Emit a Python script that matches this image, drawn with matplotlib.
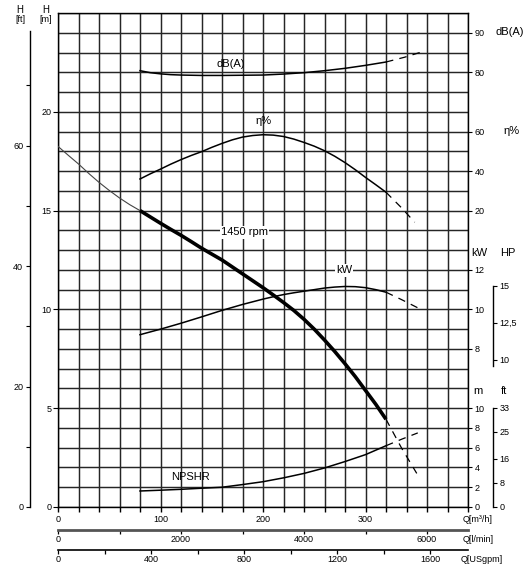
import matplotlib
matplotlib.use("Agg")
from matplotlib import pyplot as plt
import numpy as np

plt.rcParams['font.family'] = ['Liberation Sans', 'DejaVu Sans']

# pump curve, 1450 rpm (Q in m3/h, H in m)
q_thin = [0, 10, 20, 30, 40, 50, 60, 70, 80]
h_thin = [18.25, 17.8, 17.36, 16.88, 16.43, 16.02, 15.64, 15.3, 15.0]
q_h = [80, 90, 100, 110, 120, 130, 140, 150, 160, 170, 180, 190, 200,
       210, 220, 230, 240, 250, 260, 270, 280, 290, 300, 310, 320]
h_h = [15.0, 14.68, 14.36, 14.05, 13.75, 13.43, 13.1, 12.8, 12.5, 12.15, 11.8, 11.45, 11.1,
       10.73, 10.35, 9.95, 9.5, 9.0, 8.45, 7.87, 7.25, 6.6, 5.9, 5.2, 4.44]
q_h_ext = [320, 335, 350]
h_h_ext = [4.44, 3.0, 1.7]

q_db = [80, 90, 100, 110, 120, 140, 160, 180, 200, 220, 240, 260, 280, 300, 320]
db = [80.4, 79.9, 79.6, 79.4, 79.3, 79.2, 79.2, 79.25, 79.3, 79.55, 79.9, 80.4, 81.0, 81.75, 82.6]
q_db_ext = [320, 338, 353]
db_ext = [82.6, 83.8, 85.0]

q_eta = [80, 90, 100, 110, 120, 130, 140, 150, 160, 170, 180, 190, 200,
         210, 220, 230, 240, 250, 260, 270, 280, 290, 300, 310, 320]
eta = [36, 38.6, 41, 43.5, 45.8, 47.9, 49.8, 52, 54, 55.8, 57.2, 58.0, 58.4,
       58.2, 57.5, 56.2, 54.5, 52.6, 50.3, 47.5, 44.3, 40.7, 36.8, 33.1, 29.3]
q_eta_ext = [320, 335, 348]
eta_ext = [29.3, 21.5, 14.1]

q_kw = [80, 100, 120, 140, 160, 180, 200, 210, 220, 230, 240, 250, 260, 270, 280, 290, 300, 310, 320]
kw = [8.72, 9.0, 9.3, 9.62, 9.95, 10.25, 10.52, 10.64, 10.75, 10.84, 10.92, 11.0, 11.08,
      11.13, 11.16, 11.15, 11.1, 11.0, 10.87]
q_kw_ext = [320, 335, 351]
kw_ext = [10.87, 10.5, 10.08]

q_np = [80, 100, 120, 140, 160, 180, 200, 220, 240, 260, 280, 300, 320]
npsh = [1.62, 1.7, 1.79, 1.9, 2.0, 2.27, 2.56, 2.95, 3.4, 3.95, 4.6, 5.3, 6.2]
q_np_ext = [320, 335, 351]
npsh_ext = [6.2, 6.85, 7.5]

# scale conversions onto the head grid (m)
def db_to_h(v): return 22 + (np.asarray(v) - 80) / 5.0
def eta_to_h(v): return 15 + (np.asarray(v) - 20) / 10.0
def np_to_h(v): return np.asarray(v) / 2.0

W, H = 526, 567
fig = plt.figure(figsize=(W / 100, H / 100), dpi=100)

def rect(x0, y0, x1, y1):
    return [x0 / W, 1 - y1 / H, (x1 - x0) / W, (y1 - y0) / H]

def pt(p):
    return p * 72 / 100

ax = fig.add_axes(rect(58, 13, 468, 507))
ax.set_xlim(0, 400)
ax.set_ylim(0, 25)
for q in np.arange(0, 401, 20):
    ax.axvline(q, color='#262626', lw=1.05, zorder=1)
for h in range(26):
    ax.axhline(h, color='#262626', lw=1.05, zorder=1)
for s in ax.spines.values():
    s.set_linewidth(1.0)

ax.set_yticks([0, 5, 10, 15, 20])
ax.tick_params(axis='y', length=pt(5), width=0.8, labelsize=6.5, pad=1)
xt = np.arange(0, 401, 20)
ax.set_xticks(xt)
ax.set_xticklabels([str(q) if q % 100 == 0 and q < 400 else '' for q in xt])
ax.tick_params(axis='x', length=pt(5), width=1.0, labelsize=6.5, pad=2)

dash = dict(dashes=(6, 5))
ax.plot(q_thin, h_thin, color='#444', lw=0.8, zorder=3)
ax.plot(q_h, h_h, color='black', lw=2.6, zorder=4, solid_capstyle='butt')
ax.plot(q_h_ext, h_h_ext, color='black', lw=0.9, zorder=3, **dash)
ax.plot(q_db, db_to_h(db), color='black', lw=1.1, zorder=3)
ax.plot(q_db_ext, db_to_h(db_ext), color='black', lw=0.9, zorder=3, **dash)
ax.plot(q_eta, eta_to_h(eta), color='black', lw=1.1, zorder=3)
ax.plot(q_eta_ext, eta_to_h(eta_ext), color='black', lw=0.9, zorder=3, **dash)
ax.plot(q_kw, kw, color='black', lw=1.1, zorder=3)
ax.plot(q_kw_ext, kw_ext, color='black', lw=0.9, zorder=3, **dash)
ax.plot(q_np, np_to_h(npsh), color='black', lw=1.1, zorder=3)
ax.plot(q_np_ext, np_to_h(npsh_ext), color='black', lw=0.9, zorder=3, **dash)

box = dict(facecolor='white', edgecolor='none', pad=1.0)
ax.text(182, 13.9, '1450 rpm', fontsize=8, ha='center', va='center', bbox=box, zorder=5)
ax.text(279, 11.97, 'kW', fontsize=8, ha='center', va='center', bbox=box, zorder=5)
ax.text(129, 1.5, 'NPSHR', fontsize=8, ha='center', va='center', zorder=5)
ax.text(169, 22.4, 'dB(A)', fontsize=8, ha='center', va='center', zorder=5)
ax.text(200, 19.55, 'η%', fontsize=8, ha='center', va='center', zorder=5)

def scale_axes(ylim, side, ticks, labels=None, offset=None, bounds=None, minor=None):
    a = fig.add_axes(ax.get_position())
    a.patch.set_visible(False)
    a.set_ylim(ylim)
    a.set_xticks([])
    for s in a.spines.values():
        s.set_visible(False)
    if side == 'right':
        a.yaxis.tick_right()
    a.set_yticks(ticks)
    if labels is not None:
        a.set_yticklabels(labels)
    if minor is not None:
        a.set_yticks(minor, minor=True)
    a.tick_params(axis='y', which='both', length=pt(4), width=0.8, labelsize=6.5, pad=2)
    if offset is not None:
        sp = a.spines[side]
        sp.set_visible(True)
        sp.set_linewidth(1.0)
        sp.set_position(('axes', offset))
        sp.set_bounds(*bounds)
    return a

# left ft scale
scale_axes((0, 25 / 0.3048), 'left', [0, 20, 40, 60], offset=-28 / 410,
           bounds=(0, 79), minor=[10, 30, 50, 70])
# right scales
scale_axes((80 - 22 * 5, 80 + 3 * 5), 'right', [80, 90])
scale_axes((20 - 15 * 10, 20 + 10 * 10), 'right', [20, 40, 60])
scale_axes((0, 25), 'right', [8, 10, 12])
scale_axes((0, 25 / 0.7457), 'right', [10, 12.5, 15], ['10', '12,5', '15'],
           offset=1 + 25 / 410, bounds=(9.6, 15))
scale_axes((0, 50), 'right', [0, 2, 4, 6, 8, 10])
scale_axes((0, 50 / 0.3048), 'right', [0, 8, 16, 25, 33],
           offset=1 + 25 / 410, bounds=(0, 33))

# flow scales below
def flow_axis(y, xmax, major, minor, lw, color):
    a = fig.add_axes(rect(58, y - 10, 468, y))
    a.patch.set_visible(False)
    a.set_xlim(0, xmax)
    a.set_yticks([])
    for k in ('left', 'right', 'top'):
        a.spines[k].set_visible(False)
    a.spines['bottom'].set_linewidth(lw)
    a.spines['bottom'].set_color(color)
    a.set_xticks(major)
    a.set_xticks(minor, minor=True)
    a.tick_params(axis='x', which='both', length=pt(4), width=0.9, labelsize=6.5, pad=1)
    return a

flow_axis(530, 400 * 1000 / 60, [0, 2000, 4000, 6000], [1000, 3000, 5000], 2.0, '#555')
flow_axis(550, 400 * 4.40287, [0, 400, 800, 1200, 1600], [200, 600, 1000, 1400], 1.2, 'black')

def ftext(x, y, s, size=6.5, ha='left'):
    fig.text(x / W, 1 - y / H, s, fontsize=size, ha=ha, va='center')

ftext(463, 520, 'Q[m³/h]')
ftext(463, 540, 'Q[l/min]')
ftext(461, 560, 'Q[USgpm]')
ftext(20, 10, 'H', 7, 'center')
ftext(20, 20, '[ft]', 6.5, 'center')
ftext(46, 10, 'H', 7, 'center')
ftext(46, 20, '[m]', 6.5, 'center')
ftext(496, 32, 'dB(A)', 8)
ftext(503, 131, 'η%', 8)
ftext(471, 253, 'kW', 8)
ftext(500, 253, 'HP', 8)
ftext(473, 391, 'm', 8)
ftext(501, 391, 'ft', 8)

fig.savefig("out.png", dpi=100)
